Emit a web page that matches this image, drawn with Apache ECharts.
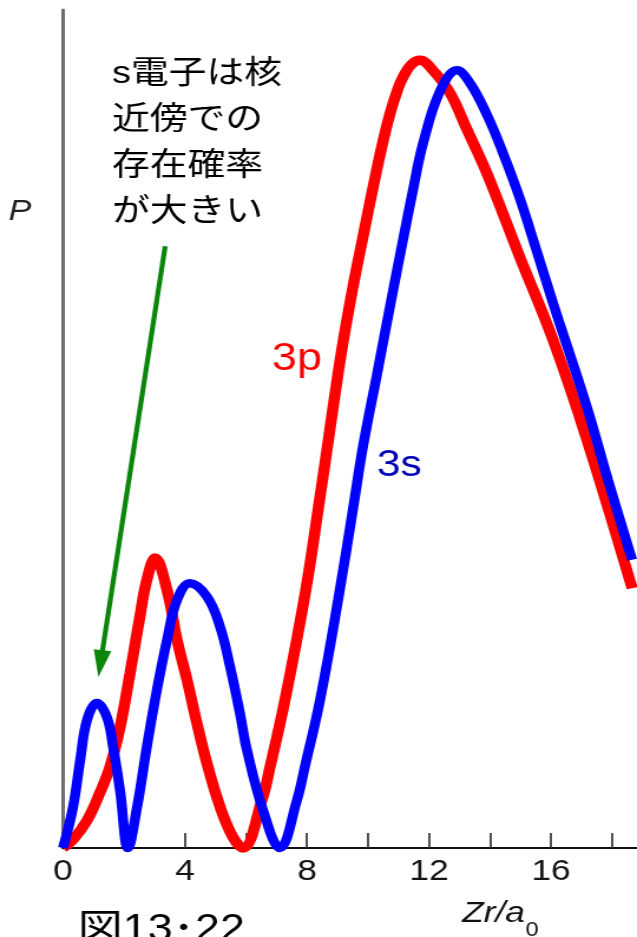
<!DOCTYPE html>
<html>
<head>
<meta charset="utf-8">
<script src="https://cdn.jsdelivr.net/npm/echarts@6/dist/echarts.min.js"></script>
<style>
  html, body { margin: 0; padding: 0; background: #fff; overflow: hidden; }
  #wrap { width: 637px; height: 937px; overflow: hidden; position: relative; background: #fff; }
  /* the figure is drawn on a narrower canvas and widened horizontally */
  #chart { width: 540px; height: 937px; transform: scaleX(1.1796); transform-origin: 0 0; }
</style>
</head>
<body>
<div id="wrap"><div id="chart"></div></div>
<script>
// radial distance Zr/a0 and probability P for the 3s orbital
const r3s = [0, 0.33, 0.56, 0.79, 1.11, 1.44, 1.64, 1.87, 2.13, 2.43, 2.75, 3.08, 3.41, 3.74, 4.16,
             4.72, 5.15, 5.48, 5.80, 6.03, 6.56, 7.11, 7.67, 7.93, 8.43, 9.02, 9.51, 9.84, 10.30,
             10.72, 11.15, 11.48, 11.80, 12.36, 12.92, 13.34, 13.90, 14.43, 14.98, 15.50, 16.07, 17.18, 17.87, 18.66];
const p3s = [0, 4.9, 10.4, 15.3, 17.3, 15.6, 12.1, 6.9, 0, 4.9, 12.1, 18.9, 24.8, 29.6, 31.6,
             30.0, 26.4, 21.6, 16.1, 11.7, 4.5, 0, 5.7, 9.7, 17.7, 29.6, 40.5, 48.0, 56.6,
             64.6, 72.6, 78.6, 84.0, 90.3, 92.8, 91.3, 87.5, 82.9, 77.5, 71.6, 65.0, 52.6, 43.9, 34.4];

// radial distance Zr/a0 and probability P for the 3p orbital
const r3p = [0, 0.33, 0.79, 1.21, 1.54, 1.87, 2.20, 2.52, 2.75, 3.02, 3.41, 3.74, 4.07, 4.39, 4.72,
             5.15, 5.57, 5.90, 6.52, 6.79, 7.28, 7.97, 8.43, 8.69, 8.92, 9.18, 9.51, 9.84, 10.13,
             10.46, 10.72, 10.98, 11.15, 11.42, 11.70, 12.13, 12.69, 13.25, 13.90, 14.98, 16.07, 17.18, 18.66];
const p3p = [0, 1.0, 3.3, 6.6, 9.7, 14.4, 20.9, 27.6, 32.0, 34.6, 30.8, 24.8, 20.0, 14.9, 10.1,
             4.9, 1.3, 0, 5.7, 9.7, 17.7, 31.0, 42.0, 48.4, 54.2, 60.3, 67.0, 73.0, 78.2,
             83.8, 87.6, 90.6, 92.0, 93.5, 94.0, 92.8, 90.1, 85.7, 80.5, 70.5, 60.6, 48.7, 31.0];

// labelled ticks on the Zr/a0 axis
const xTickLabels = [0, 4, 8, 12, 16];

// annotation text
const noteLines = ['s電子は核', '近傍での', '存在確率', 'が大きい'];
// arrow from the note down to the first 3s maximum: [Zr/a0, P]
const arrowFrom = [3.35, 71.8];
const arrowTo = [1.16, 20.4];

const LATIN = '"Liberation Sans", Arial, sans-serif';
const CJK = '"Liberation Sans", "Noto Sans CJK JP", sans-serif';

const chart = echarts.init(document.getElementById('chart'), null, { renderer: 'canvas' });

const pairs = (xs, ys) => xs.map((x, i) => [x, ys[i]]);

chart.setOption({
  backgroundColor: '#ffffff',
  animation: false,
  grid: { left: 53.4, right: 0, top: 10, bottom: 89, containLabel: false },
  xAxis: {
    type: 'value',
    min: 0,
    max: 18.82,
    interval: 2,
    axisLine: { show: true, lineStyle: { color: '#111', width: 2 } },
    axisTick: { show: true, inside: true, length: 15, lineStyle: { color: '#333', width: 1.7 } },
    axisLabel: {
      show: true,
      margin: 9,
      color: '#141414',
      fontSize: 30,
      fontFamily: LATIN,
      showMaxLabel: false,
      formatter: v => (xTickLabels.indexOf(v) >= 0 ? String(v) : '')
    },
    splitLine: { show: false }
  },
  yAxis: {
    type: 'value',
    min: 0,
    max: 100,
    axisLine: { show: true, lineStyle: { color: '#6e6e6e', width: 3 } },
    axisTick: { show: false },
    axisLabel: { show: false },
    splitLine: { show: false }
  },
  series: [
    {
      name: '3p',
      type: 'line',
      data: pairs(r3p, p3p),
      smooth: 0.4,
      showSymbol: false,
      clip: false,
      lineStyle: { color: '#ff0000', width: 9.5 },
      z: 3
    },
    {
      name: '3s',
      type: 'line',
      data: pairs(r3s, p3s),
      smooth: 0.4,
      showSymbol: false,
      clip: false,
      lineStyle: { color: '#0000ff', width: 8.5 },
      z: 4
    }
  ]
});

// text width helper for placing the subscript
const measure = (() => {
  const ctx = document.createElement('canvas').getContext('2d');
  return (text, font) => { ctx.font = font; return ctx.measureText(text).width; };
})();

const graphics = [];

// y-axis title
graphics.push({
  type: 'text', z: 10,
  style: { text: 'P', x: 17, y: 212, font: 'italic 29px ' + LATIN, fill: '#222', align: 'center', verticalAlign: 'middle' }
});

// note lines
noteLines.forEach((line, i) => {
  graphics.push({
    type: 'text', z: 10,
    style: { text: line, x: 95, y: 74 + i * 46, font: '32px ' + CJK, fill: '#000', align: 'left', verticalAlign: 'middle' }
  });
});

// series labels
graphics.push({
  type: 'text', z: 10,
  style: { text: '3p', x: 230.6, y: 360, font: '38px ' + LATIN, fill: '#ff0000', align: 'left', verticalAlign: 'middle' }
});
graphics.push({
  type: 'text', z: 10,
  style: { text: '3s', x: 319.6, y: 466, font: '36px ' + LATIN, fill: '#0000b8', align: 'left', verticalAlign: 'middle' }
});

// x-axis title Zr/a0
const titleFont = 'italic 30px ' + LATIN;
const titleX = 391.7;
graphics.push({
  type: 'text', z: 10,
  style: { text: 'Zr/a', x: titleX, y: 914, font: titleFont, fill: '#111', align: 'left', verticalAlign: 'middle' }
});
graphics.push({
  type: 'text', z: 10,
  style: { text: '0', x: titleX + measure('Zr/a', titleFont) + 0.5, y: 930, font: '20px ' + LATIN, fill: '#111', align: 'left', verticalAlign: 'middle' }
});

// figure caption
graphics.push({
  type: 'text', z: 10,
  style: { text: '図13･22', x: 66, y: 931, font: '38px ' + CJK, fill: '#000', align: 'left', verticalAlign: 'middle' }
});

// green arrow
const tail = chart.convertToPixel({ gridIndex: 0 }, arrowFrom);
const tip = chart.convertToPixel({ gridIndex: 0 }, arrowTo);
const dx = tip[0] - tail[0], dy = tip[1] - tail[1];
const len = Math.sqrt(dx * dx + dy * dy);
const ux = dx / len, uy = dy / len;
const headLen = 27, headHalf = 7.5;
const base = [tip[0] - ux * headLen, tip[1] - uy * headLen];
graphics.push({
  type: 'line', z: 10,
  shape: { x1: tail[0], y1: tail[1], x2: base[0] + ux * 2, y2: base[1] + uy * 2 },
  style: { stroke: '#0b860b', lineWidth: 4.2 }
});
graphics.push({
  type: 'polygon', z: 10,
  shape: { points: [tip, [base[0] - uy * headHalf, base[1] + ux * headHalf], [base[0] + uy * headHalf, base[1] - ux * headHalf]] },
  style: { fill: '#0b860b' }
});

chart.setOption({ graphic: graphics });
</script>
</body>
</html>
